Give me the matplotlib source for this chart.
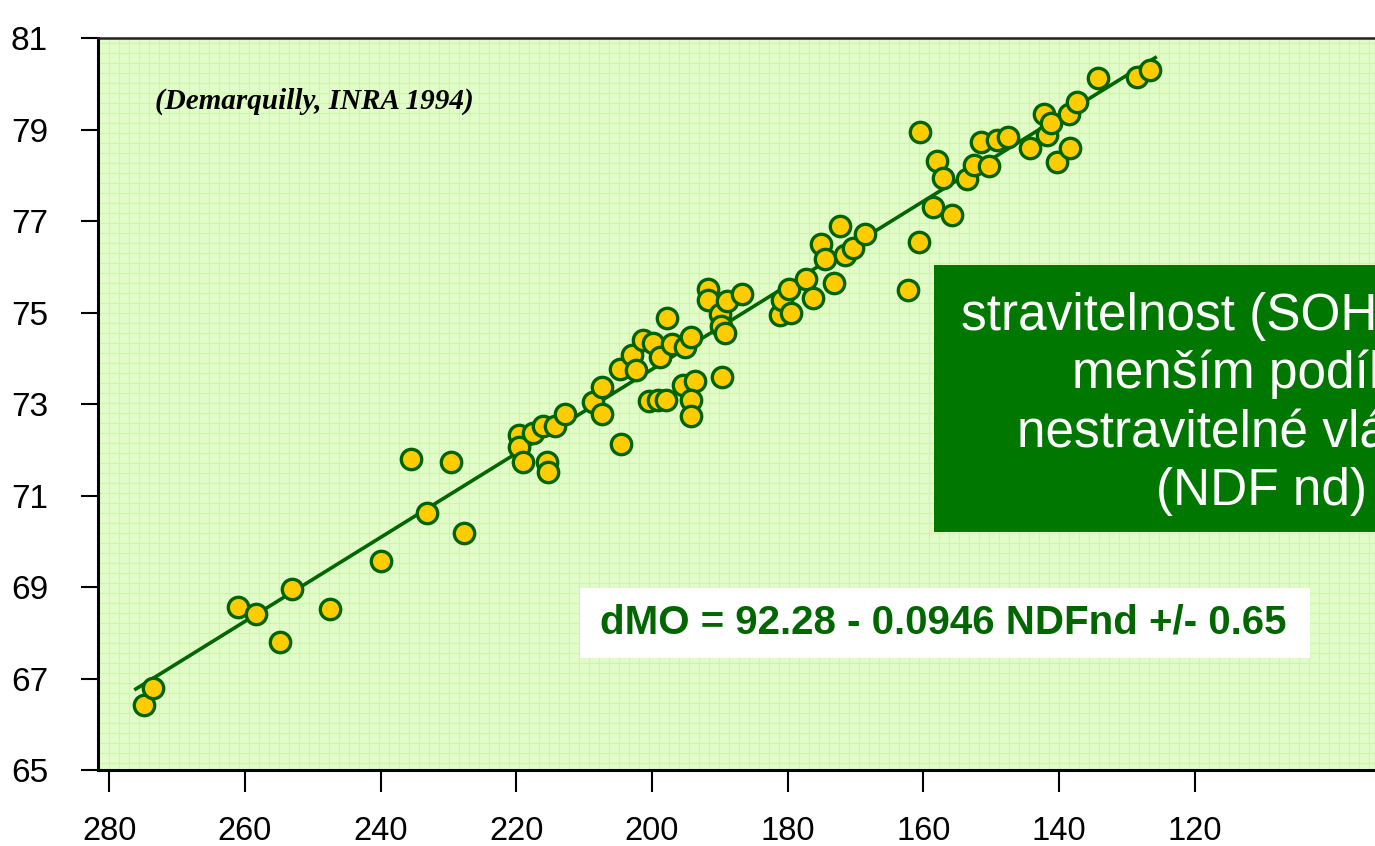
import matplotlib.pyplot as plt
from matplotlib.patches import Rectangle
from matplotlib.ticker import MultipleLocator

# NDF nd (g/kg) vs. organic matter digestibility (%)
ndf = [274.9, 273.6, 261.1, 258.4, 254.9, 253.1, 247.5, 239.9, 235.5, 233.2,
       229.6, 227.7, 219.6, 219.6, 219.0, 217.5, 216.0, 215.5, 215.3, 214.3,
       212.8, 208.7, 207.3, 207.4, 204.7, 204.6, 202.9, 202.3, 201.3, 199.8,
       198.8, 200.4, 199.1, 197.9, 197.8, 197.1, 195.2, 194.2, 195.4, 193.7,
       194.3, 194.3, 191.7, 191.7, 190.0, 189.8, 189.2, 189.6, 188.9, 186.7,
       181.1, 180.9, 179.8, 179.5, 177.3, 176.3, 175.1, 174.5, 173.1, 172.3,
       171.5, 170.3, 168.6, 162.3, 160.6, 160.5, 158.5, 158.0, 157.1, 155.7,
       153.6, 152.5, 151.5, 150.3, 149.2, 147.5, 144.2, 142.2, 141.8, 141.2,
       140.3, 138.5, 138.3, 137.3, 134.2, 128.5, 126.5]
dmo = [66.41, 66.79, 68.57, 68.42, 67.80, 68.96, 68.53, 69.57, 71.79, 70.61,
       71.73, 70.17, 72.32, 72.05, 71.73, 72.37, 72.52, 71.74, 71.52, 72.52,
       72.78, 73.04, 73.37, 72.79, 73.76, 72.12, 74.07, 73.74, 74.40, 74.34,
       74.03, 73.07, 73.09, 73.09, 74.88, 74.31, 74.25, 74.46, 73.42, 73.51,
       73.09, 72.74, 75.51, 75.27, 74.96, 74.70, 74.55, 73.58, 75.26, 75.40,
       74.95, 75.27, 75.51, 74.98, 75.73, 75.31, 76.50, 76.16, 75.64, 76.89,
       76.26, 76.42, 76.72, 75.49, 76.55, 78.95, 77.31, 78.31, 77.95, 77.13,
       77.91, 78.22, 78.72, 78.21, 78.76, 78.84, 78.60, 79.33, 78.88, 79.14,
       78.30, 79.33, 78.60, 79.61, 80.13, 80.14, 80.30]

# regression line as drawn
fit_x = [276.1, 125.8]
fit_y = [66.77, 80.57]

xticks = [280, 260, 240, 220, 200, 180, 160, 140, 120]
yticks = [65, 67, 69, 71, 73, 75, 77, 79, 81]

W, H = 1375, 846
fig = plt.figure(figsize=(W / 100, H / 100), dpi=100)
ax = fig.add_axes([98 / W, 1 - 770 / H, 1 - 98 / W, (770 - 38) / H])
ax.set_facecolor('#e2fcc9')

ax.plot(fit_x, fit_y, color='#006600', lw=2.6, zorder=3)
ax.scatter(ndf, dmo, s=215, facecolor='#ffcc00', edgecolor='#006400',
           linewidth=2.4, zorder=4, clip_on=False)

ax.set_xlim(281.67, 93.4)
ax.set_ylim(65, 81)
ax.set_xticks(xticks)
ax.set_yticks(yticks)

# fine background texture
ax.xaxis.set_minor_locator(MultipleLocator(1.474))
ax.yaxis.set_minor_locator(MultipleLocator(0.2186))
ax.grid(which='minor', color='#cbf7a9', lw=0.8)
ax.set_axisbelow(True)
ax.tick_params(which='minor', length=0)

ax.tick_params(axis='y', which='major', direction='out', length=12, width=1.5,
               pad=24, labelsize=24)
ax.tick_params(axis='x', which='major', direction='out', length=16, width=1.5,
               pad=17, labelsize=23.5)
for lab in ax.get_xticklabels() + ax.get_yticklabels():
    lab.set_family('Liberation Sans')

for s in ['left', 'bottom']:
    ax.spines[s].set_linewidth(2.2)
ax.spines['top'].set_linewidth(1.8)
ax.spines['top'].set_color('#222222')
ax.spines['right'].set_visible(False)

fig.text(155 / W, 1 - 101 / H, '(Demarquilly, INRA 1994)', family='Liberation Serif',
         style='italic', weight='bold', fontsize=21, va='center', ha='left')

# equation box
fig.patches.append(Rectangle((580 / W, 1 - 658 / H), 730 / W, 70 / H,
                             transform=fig.transFigure, facecolor='white',
                             edgecolor='none', zorder=5))
fig.text(943 / W, 1 - 622 / H, 'dMO = 92.28 - 0.0946 NDFnd +/- 0.65',
         family='Liberation Sans', weight='bold', fontsize=29, color='#006600',
         ha='center', va='center', zorder=6)

# green note box (runs off the right edge)
fig.patches.append(Rectangle((934 / W, 1 - 532 / H), 700 / W, 267 / H,
                             transform=fig.transFigure, facecolor='#007800',
                             edgecolor='none', zorder=5))
fig.text(1262 / W, 1 - 404 / H,
         'stravitelnost (SOH) roste s\nmenším podílem\nnestravitelné vlákniny\n(NDF nd)',
         family='Liberation Sans', fontsize=37, color='white', ha='center',
         va='center', multialignment='center', linespacing=1.24, zorder=6)

fig.savefig('out.png', dpi=100)
